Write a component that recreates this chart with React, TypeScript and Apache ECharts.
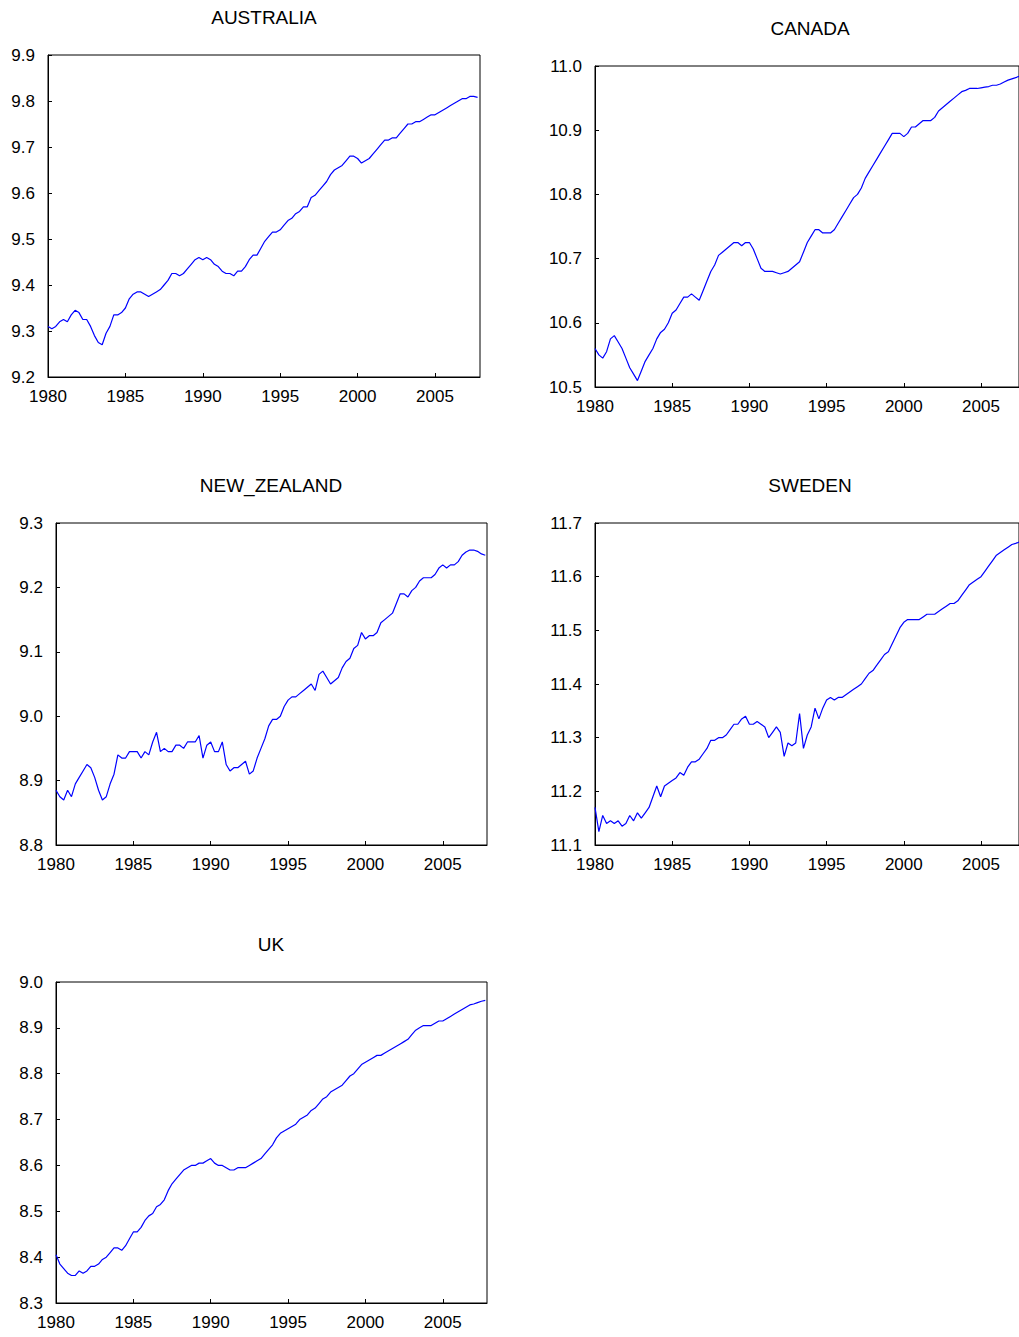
import React, { useEffect, useRef } from "react";
import * as echarts from "echarts";

const startYear = 1980;
const australia = [9.31,9.305,9.31,9.32, 9.325,9.32,9.335,9.345, 9.34,9.325,9.325,9.31, 9.29,9.275,9.27,9.295, 9.31,9.335,9.335,9.34, 9.35,9.37,9.38,9.385, 9.385,9.38,9.375,9.38, 9.385,9.39,9.40,9.41, 9.425,9.425,9.42,9.425, 9.435,9.445,9.455,9.46, 9.455,9.46,9.455,9.445, 9.44,9.43,9.425,9.425, 9.42,9.43,9.43,9.44, 9.455,9.465,9.465,9.48, 9.495,9.505,9.515,9.515, 9.52,9.53,9.54,9.545, 9.555,9.56,9.57,9.57, 9.59,9.595,9.605,9.615, 9.625,9.64,9.65,9.655, 9.66,9.67,9.68,9.68, 9.675,9.665,9.67,9.675, 9.685,9.695,9.705,9.715, 9.715,9.72,9.72,9.73, 9.74,9.75,9.75,9.755, 9.755,9.76,9.765,9.77, 9.77,9.775,9.78,9.785, 9.79,9.795,9.80,9.805, 9.805,9.81,9.81,9.808];
const canada = [10.56,10.55,10.545,10.555, 10.575,10.58,10.57,10.56, 10.545,10.53,10.52,10.51, 10.525,10.54,10.55,10.56, 10.575,10.585,10.59,10.60, 10.615,10.62,10.63,10.64, 10.64,10.645,10.64,10.635, 10.65,10.665,10.68,10.69, 10.705,10.71,10.715,10.72, 10.725,10.725,10.72,10.725, 10.725,10.715,10.70,10.685, 10.68,10.68,10.68,10.678, 10.676,10.678,10.68,10.685, 10.69,10.695,10.71,10.725, 10.735,10.745,10.745,10.74, 10.74,10.74,10.745,10.755, 10.765,10.775,10.785,10.795, 10.80,10.81,10.825,10.835, 10.845,10.855,10.865,10.875, 10.885,10.895,10.895,10.895, 10.89,10.895,10.905,10.905, 10.91,10.915,10.915,10.915, 10.92,10.93,10.935,10.94, 10.945,10.95,10.955,10.96, 10.962,10.965,10.965,10.965, 10.966,10.967,10.968,10.97, 10.97,10.972,10.975,10.978, 10.98,10.982,10.984,10.986];
const newZealand = [8.885,8.875,8.87,8.885, 8.875,8.895,8.905,8.915, 8.925,8.92,8.905,8.885, 8.87,8.875,8.895,8.91, 8.94,8.935,8.935,8.945, 8.945,8.945,8.935,8.945, 8.94,8.96,8.975,8.945, 8.95,8.945,8.945,8.955, 8.955,8.95,8.96,8.96, 8.96,8.97,8.935,8.955, 8.96,8.945,8.945,8.96, 8.925,8.915,8.92,8.92, 8.925,8.93,8.91,8.915, 8.935,8.95,8.965,8.985, 8.995,8.995,9.0,9.015, 9.025,9.03,9.03,9.035, 9.04,9.045,9.05,9.04, 9.065,9.07,9.06,9.05, 9.055,9.06,9.075,9.085, 9.09,9.105,9.11,9.13, 9.12,9.125,9.125,9.13, 9.145,9.15,9.155,9.16, 9.175,9.19,9.19,9.185, 9.195,9.2,9.21,9.215, 9.215,9.215,9.22,9.23, 9.235,9.23,9.235,9.235, 9.24,9.25,9.255,9.258, 9.258,9.256,9.252,9.25];
const sweden = [11.17,11.125,11.155,11.14, 11.145,11.14,11.145,11.135, 11.14,11.155,11.145,11.16, 11.15,11.16,11.17,11.19, 11.21,11.19,11.21,11.215, 11.22,11.225,11.235,11.23, 11.245,11.255,11.255,11.26, 11.27,11.28,11.295,11.295, 11.30,11.30,11.305,11.315, 11.325,11.325,11.335,11.34, 11.325,11.325,11.33,11.325, 11.32,11.30,11.31,11.32, 11.31,11.265,11.29,11.285, 11.29,11.345,11.28,11.305, 11.32,11.355,11.335,11.355, 11.37,11.375,11.37,11.375, 11.375,11.38,11.385,11.39, 11.395,11.40,11.41,11.42, 11.425,11.435,11.445,11.455, 11.46,11.475,11.49,11.505, 11.515,11.52,11.52,11.52, 11.52,11.525,11.53,11.53, 11.53,11.535,11.54,11.545, 11.55,11.55,11.555,11.565, 11.575,11.585,11.59,11.595, 11.60,11.61,11.62,11.63, 11.64,11.645,11.65,11.655, 11.66,11.662,11.665,11.668];
const uk = [8.405,8.385,8.375,8.365, 8.36,8.36,8.37,8.365, 8.37,8.38,8.38,8.385, 8.395,8.40,8.41,8.42, 8.42,8.415,8.425,8.44, 8.455,8.455,8.465,8.48, 8.49,8.495,8.51,8.515, 8.525,8.545,8.56,8.57, 8.58,8.59,8.595,8.60, 8.60,8.605,8.605,8.61, 8.615,8.605,8.60,8.60, 8.595,8.59,8.59,8.595, 8.595,8.595,8.60,8.605, 8.61,8.615,8.625,8.635, 8.645,8.66,8.67,8.675, 8.68,8.685,8.69,8.70, 8.705,8.71,8.72,8.725, 8.735,8.745,8.75,8.76, 8.765,8.77,8.775,8.785, 8.795,8.80,8.81,8.82, 8.825,8.83,8.835,8.84, 8.84,8.845,8.85,8.855, 8.86,8.865,8.87,8.875, 8.885,8.895,8.90,8.905, 8.905,8.905,8.91,8.915, 8.915,8.92,8.925,8.93, 8.935,8.94,8.945,8.95, 8.952,8.955,8.958,8.96];

const panels = [
  { name: "AUSTRALIA", data: australia, min: 9.2, max: 9.9, g: [48, 55, 432, 322], tc: 264, pxYr: 15.48 },
  { name: "CANADA", data: canada, min: 10.5, max: 11.0, g: [595, 66, 424, 321], tc: 810, pxYr: 15.44 },
  { name: "NEW_ZEALAND", data: newZealand, min: 8.8, max: 9.3, g: [56, 523, 431, 322], tc: 271, pxYr: 15.47 },
  { name: "SWEDEN", data: sweden, min: 11.1, max: 11.7, g: [595, 523, 424, 322], tc: 810, pxYr: 15.44 },
  { name: "UK", data: uk, min: 8.3, max: 9.0, g: [56, 982, 431, 321], tc: 271, pxYr: 15.47 },
];

export default function App() {
  const ref = useRef<HTMLDivElement>(null);
  useEffect(() => {
    document.body.style.margin = "0";
    const chart = echarts.init(ref.current!, null, { renderer: "svg" });
    const font = "Liberation Sans, Arial, sans-serif";
    chart.setOption({
      animation: false,
      backgroundColor: "#fff",
      title: panels.map((p) => ({
        text: p.name,
        left: p.tc - 5,
        top: p.g[1] - 52,
        textAlign: "center",
        textStyle: { fontFamily: font, fontSize: 19, fontWeight: "normal", color: "#000" },
      })),
      grid: panels.map((p) => ({
        left: p.g[0], top: p.g[1], width: p.g[2], height: p.g[3],
        show: true, borderColor: "#000", borderWidth: 1, backgroundColor: "transparent",
      })),
      xAxis: panels.map((p, i) => ({
        type: "value", gridIndex: i, min: startYear, max: startYear + p.g[2] / p.pxYr,
        interval: 5, splitLine: { show: false },
        axisLine: { lineStyle: { color: "#000" } },
        axisTick: { inside: true, length: 4, lineStyle: { color: "#000" } },
        axisLabel: { color: "#000", fontFamily: font, fontSize: 17, margin: 11, showMaxLabel: false,
          formatter: (v: number) => String(Math.round(v)) },
      })),
      yAxis: panels.map((p, i) => ({
        type: "value", gridIndex: i, min: p.min, max: p.max, interval: 0.1,
        splitLine: { show: false },
        axisLine: { show: true, lineStyle: { color: "#000" } },
        axisTick: { inside: true, length: 4, lineStyle: { color: "#000" } },
        axisLabel: { color: "#000", fontFamily: font, fontSize: 17, margin: 13,
          formatter: (v: number) => v.toFixed(1) },
      })),
      series: panels.map((p, i) => ({
        type: "line", xAxisIndex: i, yAxisIndex: i, showSymbol: false,
        lineStyle: { color: "#0000ff", width: 1.2 },
        data: p.data.map((v, k) => [startYear + k / 4, v]),
      })),
    });
    return () => chart.dispose();
  }, []);
  return <div ref={ref} style={{ width: 1019, height: 1337 }} />;
}
